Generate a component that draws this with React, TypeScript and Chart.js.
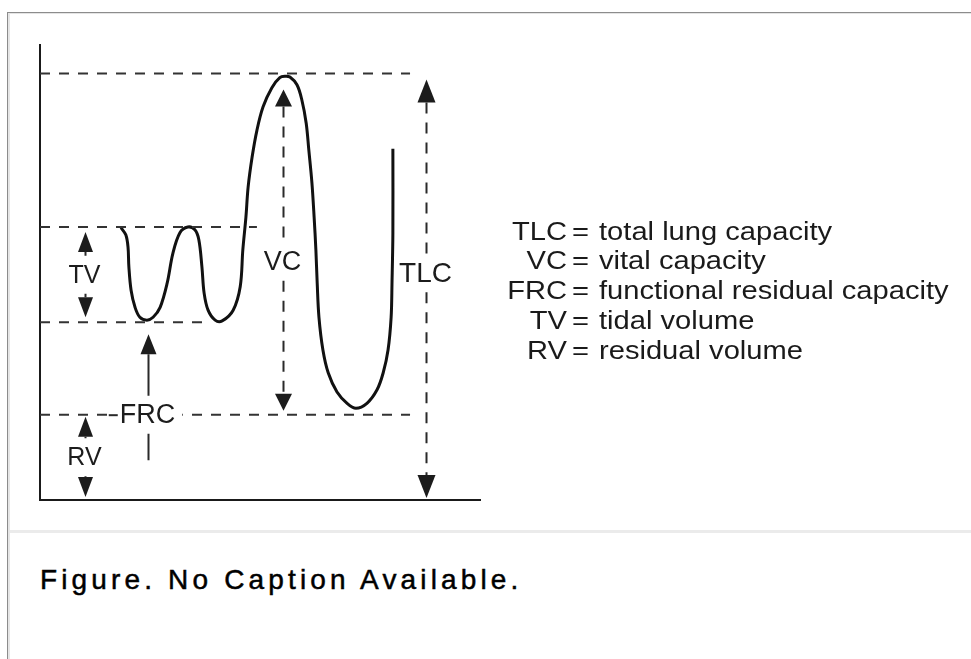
import React, { useEffect, useRef } from "react";
import { Chart, registerables } from "chart.js";

Chart.register(...registerables);

// ---- Spirogram trace (time in s, volume in L) ----
const curveTime = [
  1.84, 1.95, 2.0, 2.02, 2.07, 2.16, 2.27, 2.43, 2.57, 2.73, 2.89, 3.02, 3.18, 3.36, 3.52, 3.61, 3.68, 3.73, 3.82, 3.98, 4.14,
  4.39, 4.55, 4.61, 4.68, 4.73, 4.82, 4.93, 5.07, 5.27, 5.45, 5.57,
  5.68, 5.84, 5.95, 6.05, 6.11, 6.18, 6.23, 6.27, 6.3, 6.34, 6.43, 6.55, 6.75, 6.98, 7.18,
  7.43, 7.66, 7.8, 7.91, 7.98, 8.0, 8.02, 8.02,
];
const curveVolume = [
  3.83, 3.73, 3.56, 3.28, 2.95, 2.71, 2.57, 2.53, 2.57, 2.71, 3.05, 3.47, 3.76, 3.84, 3.8, 3.66, 3.28, 2.91, 2.67, 2.53, 2.52,
  2.67, 3.0, 3.52, 3.98, 4.4, 4.82, 5.2, 5.53, 5.8, 5.94, 5.96,
  5.95, 5.84, 5.63, 5.3, 4.92, 4.46, 3.98, 3.52, 3.05, 2.57, 2.11, 1.79, 1.52, 1.36, 1.29,
  1.36, 1.55, 1.79, 2.11, 2.57, 3.05, 3.76, 4.94,
];

// ---- Reference volume levels (dashed lines) ----
const levelNames = ["TLC", "End inspiration", "FRC", "RV"];
const levelVolume = [6.0, 3.84, 2.5, 1.2];
const levelLineEnd = [8.41, 4.93, 3.75, 8.41];

// ---- Arrows marking the volumes ----
const arrowLabels = ["TV", "RV", "FRC", "VC", "TLC"];
const arrowTime = [1.02, 1.02, 2.45, 5.52, 8.77];
const arrowTop = [3.84, 1.2, 2.5, 6.0, 6.0];
const arrowBottom = [2.5, 0, 0.56, 1.2, 0];
const arrowLabelVolume = [3.17, 0.6, 1.2, 3.35, 3.19];

// ---- Key ----
const keyAbbr = ["TLC", "VC", "FRC", "TV", "RV"];
const keyText = [
  "total lung capacity",
  "vital capacity",
  "functional residual capacity",
  "tidal volume",
  "residual volume",
];

const X_MIN = 0;
const X_MAX = 10;
const Y_MIN = 0;
const Y_MAX = 6.4;

const FONT = '"Liberation Sans", Arial, Helvetica, sans-serif';

// per-arrow drawing style: tip insets (px), heads, dash, head size, font size
const ARROW_STYLE = [
  { insetTop: 5, insetBottom: 5, headTop: true, headBottom: true, dashed: false, w: 15, h: 20, font: 25 },
  { insetTop: 2, insetBottom: 3, headTop: true, headBottom: true, dashed: false, w: 15, h: 20, font: 25 },
  { insetTop: 12, insetBottom: 0, headTop: true, headBottom: false, dashed: false, w: 16, h: 20, font: 27 },
  { insetTop: 16, insetBottom: 4, headTop: true, headBottom: true, dashed: true, w: 17, h: 17, font: 27 },
  { insetTop: 6, insetBottom: 2, headTop: true, headBottom: true, dashed: true, w: 18, h: 23, font: 28 },
];

function triangle(ctx: CanvasRenderingContext2D, x: number, tipY: number, baseY: number, w: number) {
  ctx.beginPath();
  ctx.moveTo(x, tipY);
  ctx.lineTo(x - w / 2, baseY);
  ctx.lineTo(x + w / 2, baseY);
  ctx.closePath();
  ctx.fill();
}

const overlayPlugin = {
  id: "spiroOverlay",
  afterDatasetsDraw(chart: any) {
    const ctx: CanvasRenderingContext2D = chart.ctx;
    const xs = chart.scales.x;
    const ys = chart.scales.y;
    ctx.save();
    ctx.fillStyle = "#1c1c1c";
    ctx.strokeStyle = "#2a2a2a";
    ctx.lineWidth = 2;
    ctx.textAlign = "center";
    ctx.textBaseline = "middle";

    arrowLabels.forEach((label, i) => {
      const st = ARROW_STYLE[i];
      const x = Math.round(xs.getPixelForValue(arrowTime[i])) + 0.5;
      const top = ys.getPixelForValue(arrowTop[i]) + st.insetTop;
      const bottom = ys.getPixelForValue(arrowBottom[i]) - st.insetBottom;
      const ly = ys.getPixelForValue(arrowLabelVolume[i]);
      ctx.font = `${st.font}px ${FONT}`;
      const tw = ctx.measureText(label).width;

      // label background (FRC label sits on the RV dashed line)
      if (label === "FRC") {
        ctx.save();
        ctx.fillStyle = "#ffffff";
        ctx.fillRect(x - tw / 2 - 6, ly - 16, tw + 12, 32);
        ctx.restore();
        // leading dash before label
        ctx.beginPath();
        ctx.moveTo(x - tw / 2 - 12, ly + 0.5);
        ctx.lineTo(x - tw / 2 - 3, ly + 0.5);
        ctx.stroke();
      }

      const stemTop = st.headTop ? top + st.h : top;
      const stemBottom = st.headBottom ? bottom - st.h : bottom;
      ctx.setLineDash(st.dashed ? [11, 9] : []);
      ctx.beginPath();
      ctx.moveTo(x, stemTop);
      ctx.lineTo(x, ly - 19);
      ctx.moveTo(x, ly + 19);
      ctx.lineTo(x, stemBottom);
      ctx.stroke();
      ctx.setLineDash([]);
      if (st.headTop) triangle(ctx, x, top, top + st.h, st.w);
      if (st.headBottom) triangle(ctx, x, bottom, bottom - st.h, st.w);
      ctx.fillText(label, x - 1, ly + 1);
    });
    ctx.restore();
  },
  afterDraw(chart: any) {
    const ctx: CanvasRenderingContext2D = chart.ctx;
    ctx.save();
    ctx.fillStyle = "#1a1a1a";
    ctx.font = `26px ${FONT}`;
    ctx.textBaseline = "alphabetic";
    keyAbbr.forEach((abbr, i) => {
      const y = 239.5 + i * 29.8;
      ctx.save();
      ctx.translate(567, y);
      ctx.scale(1.12, 1);
      ctx.textAlign = "right";
      ctx.fillText(abbr, 0, 0);
      ctx.restore();
      ctx.save();
      ctx.translate(572, y);
      ctx.scale(1.12, 1);
      ctx.textAlign = "left";
      ctx.fillText("=", 0, 0);
      ctx.restore();
      ctx.save();
      ctx.translate(599, y);
      ctx.scale(1.12, 1);
      ctx.textAlign = "left";
      ctx.fillText(keyText[i], 0, 0);
      ctx.restore();
    });
    ctx.restore();
  },
};

export default function App() {
  const canvasRef = useRef<HTMLCanvasElement | null>(null);

  useEffect(() => {
    const canvas = canvasRef.current;
    if (!canvas) return;

    const levelDatasets = levelVolume.map((v, i) => ({
      label: levelNames[i],
      data: [
        { x: X_MIN, y: v },
        { x: levelLineEnd[i], y: v },
      ],
      borderColor: "#333333",
      borderWidth: 2,
      borderDash: [10, 9],
      pointRadius: 0,
      tension: 0,
      fill: false,
    }));

    const chart = new Chart(canvas, {
      type: "line",
      data: {
        datasets: [
          ...levelDatasets,
          {
            label: "Volume",
            data: curveTime.map((t, i) => ({ x: t, y: curveVolume[i] })),
            borderColor: "#111111",
            borderWidth: 3,
            pointRadius: 0,
            tension: 0.35,
            fill: false,
          },
        ],
      },
      options: {
        responsive: false,
        animation: false,
        events: [],
        layout: { padding: { left: 40, top: 45, right: 491, bottom: 30 } },
        plugins: {
          legend: { display: false },
          tooltip: { enabled: false },
        },
        scales: {
          x: {
            type: "linear",
            min: X_MIN,
            max: X_MAX,
            ticks: { display: false },
            grid: { display: false, drawTicks: false },
            border: { display: true, color: "#1a1a1a", width: 2 },
          },
          y: {
            type: "linear",
            min: Y_MIN,
            max: Y_MAX,
            ticks: { display: false },
            grid: { display: false, drawTicks: false },
            border: { display: true, color: "#1a1a1a", width: 2 },
          },
        },
      },
      plugins: [overlayPlugin],
    } as any);

    return () => chart.destroy();
  }, []);

  return (
    <div style={{ position: "fixed", left: 0, top: 0, width: 971, height: 659, background: "#fff", overflow: "hidden" }}>
      {/* frame */}
      <div style={{ position: "absolute", left: 7, top: 12, width: 964, height: 1, background: "#8c8c8c" }} />
      <div style={{ position: "absolute", left: 8, top: 13, width: 963, height: 1, background: "#e4e4e4" }} />
      <div style={{ position: "absolute", left: 7, top: 12, width: 1, height: 647, background: "#8c8c8c" }} />
      <div style={{ position: "absolute", left: 8, top: 13, width: 2, height: 646, background: "#e6e6e6" }} />
      <div style={{ position: "absolute", left: 10, top: 530, width: 961, height: 3, background: "#ebebeb" }} />
      <canvas ref={canvasRef} width={971} height={530} style={{ position: "absolute", left: 0, top: 0 }} />
      <div
        style={{
          position: "absolute",
          left: 40,
          top: 566,
          fontFamily: FONT,
          fontSize: 28,
          lineHeight: "28px",
          letterSpacing: "4.15px",
          color: "#000",
          WebkitTextStroke: "0.5px #000",
          whiteSpace: "nowrap",
        }}
      >
        Figure. No Caption Available.
      </div>
    </div>
  );
}
